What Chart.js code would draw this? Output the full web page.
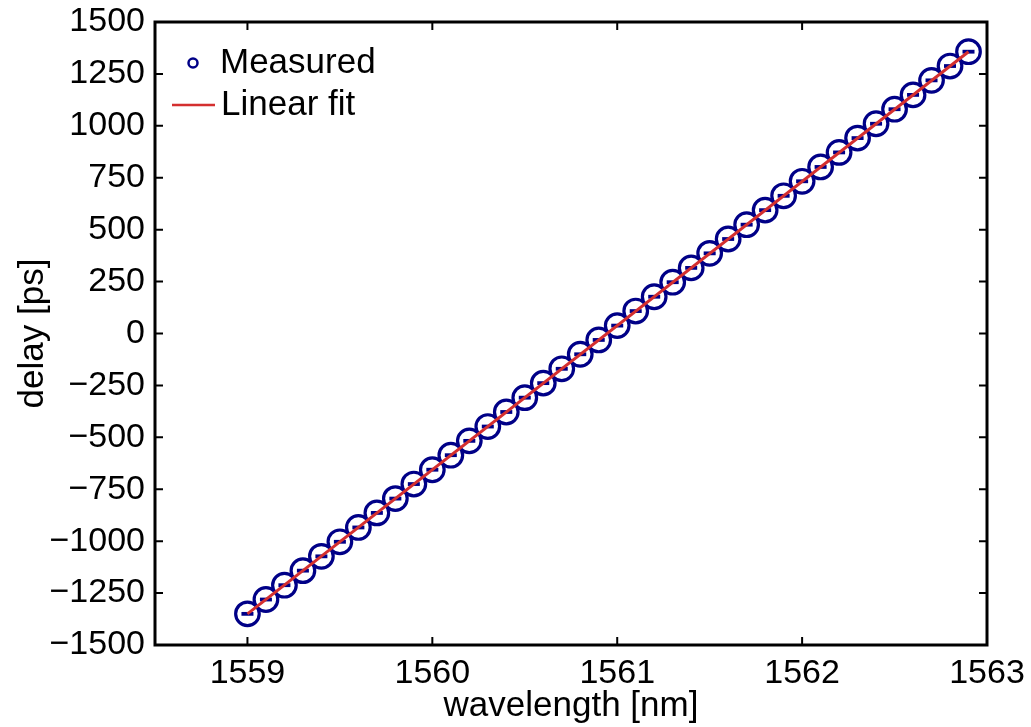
<!DOCTYPE html>
<html>
<head>
<meta charset="utf-8">
<script src="https://cdn.jsdelivr.net/npm/chart.js@4/dist/chart.umd.min.js"></script>
<style>
  html, body { margin: 0; padding: 0; background: #fff; }
  #wrap { width: 1031px; height: 727px; position: relative; }
</style>
</head>
<body>
<div id="wrap"><canvas id="chart"></canvas></div>
<script>
// ===== DATA =====
const wavelengths = [
  1559.0, 1559.1, 1559.2, 1559.3, 1559.4, 1559.5, 1559.6, 1559.7, 1559.8, 1559.9,
  1560.0, 1560.1, 1560.2, 1560.3, 1560.4, 1560.5, 1560.6, 1560.7, 1560.8, 1560.9,
  1561.0, 1561.1, 1561.2, 1561.3, 1561.4, 1561.5, 1561.6, 1561.7, 1561.8, 1561.9,
  1562.0, 1562.1, 1562.2, 1562.3, 1562.4, 1562.5, 1562.6, 1562.7, 1562.8, 1562.9
];
const delays = [
  -1350, -1281, -1212, -1142, -1073, -1003, -934, -864, -795, -725,
  -656, -586, -517, -448, -378, -309, -239, -170, -100, -31,
  38, 108, 177, 247, 316, 386, 455, 524, 594, 663,
  733, 802, 872, 941, 1010, 1080, 1149, 1219, 1288, 1357
];
const fitX = [1559.0, 1562.9];
const fitY = [-1350, 1357];
const xTicks = [1559, 1560, 1561, 1562, 1563];
const yTicks = [-1500, -1250, -1000, -750, -500, -250, 0, 250, 500, 750, 1000, 1250, 1500];

const NAVY = '#000087';
const RED = '#d42f2f';
const FONT = '"Liberation Sans", Arial, Helvetica, sans-serif';

const measured = wavelengths.map((x, i) => ({ x, y: delays[i] }));
const fit = fitX.map((x, i) => ({ x, y: fitY[i] }));

// frame + inward ticks on all sides, matlab style
const framePlugin = {
  id: 'frame',
  afterDatasetsDraw(chart) {
    const { ctx, chartArea: a, scales } = chart;
    const tl = 8;
    ctx.save();
    ctx.strokeStyle = '#000';
    ctx.lineWidth = 2;
    ctx.beginPath();
    xTicks.forEach(v => {
      const px = scales.x.getPixelForValue(v);
      ctx.moveTo(px, a.bottom); ctx.lineTo(px, a.bottom - tl);
      ctx.moveTo(px, a.top); ctx.lineTo(px, a.top + tl);
    });
    yTicks.forEach(v => {
      const py = scales.y.getPixelForValue(v);
      ctx.moveTo(a.left, py); ctx.lineTo(a.left + tl, py);
      ctx.moveTo(a.right, py); ctx.lineTo(a.right - tl, py);
    });
    ctx.stroke();
    ctx.lineWidth = 3;
    ctx.strokeRect(a.left, a.top, a.right - a.left, a.bottom - a.top);
    ctx.restore();
  },
  afterDraw(chart) {
    // legend, no box
    const { ctx } = chart;
    ctx.save();
    ctx.strokeStyle = NAVY;
    ctx.lineWidth = 2.5;
    ctx.beginPath();
    ctx.arc(193, 63, 4.5, 0, Math.PI * 2);
    ctx.stroke();
    ctx.strokeStyle = RED;
    ctx.lineWidth = 2.5;
    ctx.beginPath();
    ctx.moveTo(172, 105); ctx.lineTo(215, 105);
    ctx.stroke();
    ctx.fillStyle = '#000';
    ctx.font = '35px ' + FONT;
    ctx.textBaseline = 'middle';
    ctx.textAlign = 'left';
    ctx.fillText('Measured', 220, 63);
    ctx.fillText('Linear fit', 221, 105);
    ctx.restore();
  }
};

new Chart(document.getElementById('chart'), {
  type: 'scatter',
  data: {
    datasets: [
      {
        label: 'Linear fit',
        data: fit,
        showLine: true,
        borderColor: RED,
        borderWidth: 3,
        pointRadius: 0,
        order: 0
      },
      {
        label: 'bar',
        data: measured,
        pointStyle: 'line',
        pointRadius: 6,
        borderColor: NAVY,
        pointBorderWidth: 3.8,
        order: 1
      },
      {
        label: 'Measured',
        data: measured,
        pointStyle: 'circle',
        pointRadius: 11.8,
        backgroundColor: 'rgba(0,0,0,0)',
        borderColor: NAVY,
        pointBorderWidth: 3.2,
        order: 2
      }
    ]
  },
  options: {
    responsive: true,
    maintainAspectRatio: false,
    animation: false,
    clip: false,
    layout: { padding: { top: 22, right: 44, left: 0, bottom: 0 } },
    plugins: { legend: { display: false }, tooltip: { enabled: false } },
    scales: {
      x: {
        type: 'linear',
        min: 1558.5,
        max: 1563,
        afterBuildTicks: s => { s.ticks = xTicks.map(v => ({ value: v })); },
        afterFit: s => { s.height = 82; s.paddingLeft = 0; s.paddingRight = 0; },
        grid: { display: false, drawTicks: false },
        border: { display: false },
        ticks: {
          color: '#000',
          font: { family: FONT, size: 34 },
          padding: 8,
          maxRotation: 0,
          callback: v => String(v)
        },
        title: {
          display: true,
          text: 'wavelength [nm]',
          color: '#000',
          font: { family: FONT, size: 35 },
          padding: { top: 0, bottom: 0 }
        }
      },
      y: {
        type: 'linear',
        min: -1500,
        max: 1500,
        afterBuildTicks: s => { s.ticks = yTicks.map(v => ({ value: v })); },
        afterFit: s => { s.width = 155; s.paddingTop = 0; s.paddingBottom = 0; },
        grid: { display: false, drawTicks: false },
        border: { display: false },
        ticks: {
          color: '#000',
          font: { family: FONT, size: 34 },
          padding: 10,
          callback: v => String(v).replace('-', '\u2212')
        },
        title: {
          display: true,
          text: 'delay [ps]',
          color: '#000',
          font: { family: FONT, size: 35 },
          padding: { top: 12, bottom: 0 }
        }
      }
    }
  },
  plugins: [framePlugin]
});
</script>
</body>
</html>
